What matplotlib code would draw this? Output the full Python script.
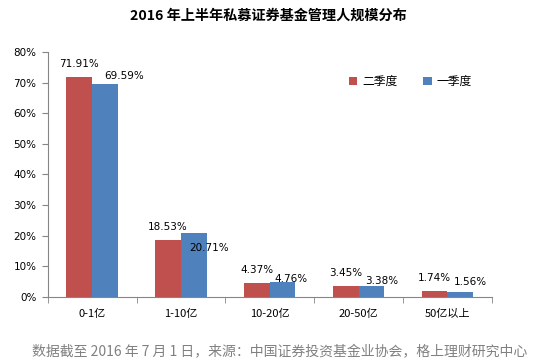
import matplotlib.pyplot as plt
import numpy as np

plt.rcParams['font.family'] = ['Noto Sans CJK SC', 'DejaVu Sans']

categories = ['0-1亿', '1-10亿', '10-20亿', '20-50亿', '50亿以上']
q2 = [71.91, 18.53, 4.37, 3.45, 1.74]
q1 = [69.59, 20.71, 4.76, 3.38, 1.56]
q2_name = '二季度'
q1_name = '一季度'
yticks = [0, 10, 20, 30, 40, 50, 60, 70, 80]

red = '#c0504d'
blue = '#4f81bd'
axcol = '#868686'

fig = plt.figure(figsize=(5.36, 3.62), dpi=100)
ax = fig.add_axes([47.7/536, (362-296.7)/362, (491.7-47.7)/536, (296.7-52)/362])

x = np.arange(len(categories))
w = 0.29
ax.bar(x - w/2, q2, w, color=red, label=q2_name)
ax.bar(x + w/2, q1, w, color=blue, label=q1_name)

# labels: red ones above the bar, blue ones nudged like the original
for i, v in enumerate(q2):
    ax.annotate('%.2f%%' % v, (x[i] - w/2, v), xytext=(0, 9.4), textcoords='offset points',
                ha='center', va='center', fontsize=7.5, family='DejaVu Sans')
blue_off = [(13.7, 5.8), (10.8, -10.8), (5.8, 2.2), (7.2, 3.6), (7.2, 7.2)]
for i, v in enumerate(q1):
    ax.annotate('%.2f%%' % v, (x[i] + w/2, v), xytext=blue_off[i], textcoords='offset points',
                ha='center', va='center', fontsize=7.5, family='DejaVu Sans')

ax.set_xlim(-0.5, len(categories) - 0.5)
ax.set_ylim(0, 80)
ax.set_yticks(yticks)
ax.set_yticklabels(['%d%%' % t for t in yticks], fontsize=7.5, family='DejaVu Sans')
ax.set_xticks(x)
ax.set_xticklabels(categories, fontsize=8)
ax.set_xticks(np.arange(len(categories) + 1) - 0.5, minor=True)
ax.tick_params(axis='x', which='major', length=0, pad=9)
ax.tick_params(axis='x', which='minor', length=4, color=axcol, direction='out')
ax.tick_params(axis='y', length=4, color=axcol, direction='out', pad=4)

for s in ['top', 'right']:
    ax.spines[s].set_visible(False)
for s in ['left', 'bottom']:
    ax.spines[s].set_color(axcol)

ax.legend(loc='upper left', bbox_to_anchor=(0.655, 0.95), ncol=2, frameon=False,
          fontsize=8.5, handlelength=0.7, handleheight=0.7, handletextpad=0.4,
          columnspacing=2.2)

fig.text(0.5, 1 - 16/362, '2016 年上半年私募证券基金管理人规模分布', ha='center', va='center',
         fontsize=10.2, fontweight='bold')
fig.text(32/536, 1 - 352/362, '数据截至 2016 年 7 月 1 日，来源：中国证券投资基金业协会，格上理财研究中心',
         ha='left', va='center', fontsize=10, color='#808080')

fig.savefig('out.png', dpi=100)
